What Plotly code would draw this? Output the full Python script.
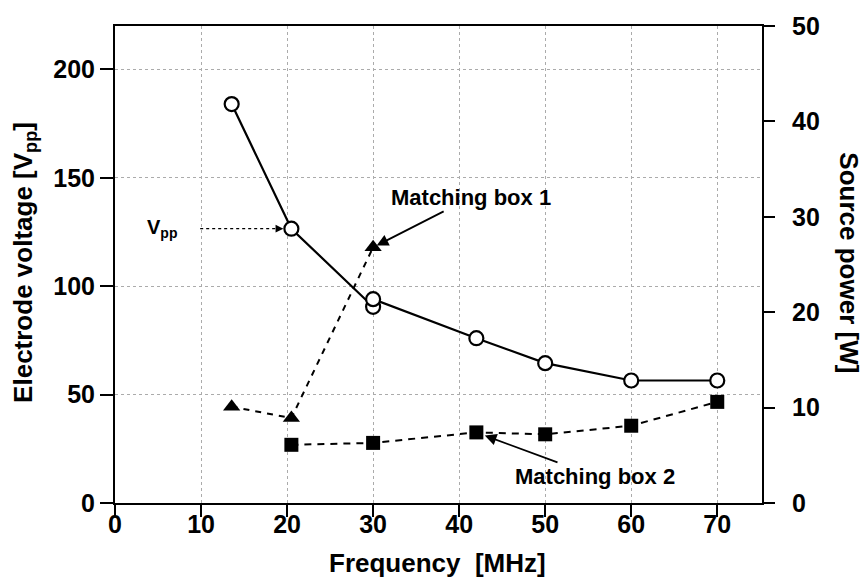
import plotly.graph_objects as go

# Electrode voltage (peak-to-peak) versus excitation frequency
freq_vpp = [13.56, 20.5, 30, 30, 42, 50, 60, 70]
vpp = [184, 126.5, 90.5, 94, 76, 64.5, 56.5, 56.5]

# Source power needed with matching box 1
freq_mb1 = [13.56, 20.5, 30]
power_mb1 = [10.1, 8.9, 26.8]

# Source power needed with matching box 2
freq_mb2 = [20.5, 30, 42, 50, 60, 70]
power_mb2 = [6.1, 6.3, 7.4, 7.2, 8.1, 10.6]

x_ticks = [0, 10, 20, 30, 40, 50, 60, 70]
v_ticks = [0, 50, 100, 150, 200]
p_ticks = [0, 10, 20, 30, 40, 50]

FONT = "Liberation Sans, Arial, sans-serif"
tick_font = dict(family=FONT, size=25, color="black", weight="bold")
title_font = dict(family=FONT, size=26, color="black")

fig = go.Figure()

fig.add_trace(go.Scatter(
    x=freq_vpp, y=vpp, mode="lines+markers", yaxis="y",
    line=dict(color="black", width=2.2),
    marker=dict(symbol="circle", size=14, color="white",
                line=dict(color="black", width=2.2)),
    showlegend=False,
))
fig.add_trace(go.Scatter(
    x=freq_mb1, y=power_mb1, mode="lines+markers", yaxis="y2",
    line=dict(color="black", width=2, dash="6px,6px"),
    marker=dict(symbol="triangle-up", size=15, color="black"),
    showlegend=False,
))
fig.add_trace(go.Scatter(
    x=freq_mb2, y=power_mb2, mode="lines+markers", yaxis="y2",
    line=dict(color="black", width=2, dash="7px,6px"),
    marker=dict(symbol="square", size=14, color="black"),
    showlegend=False,
))

annotations = [
    # axis titles
    dict(text="<b>Electrode voltage [V<sub>pp</sub>]</b>", xref="paper", yref="paper",
         x=-0.141, y=0.505, textangle=-90, showarrow=False, font=title_font,
         xanchor="center", yanchor="middle"),
    dict(text="<b>Source power [W]</b>", xref="paper", yref="paper",
         x=1.134, y=0.503, textangle=90, showarrow=False, font=title_font,
         xanchor="center", yanchor="middle"),
    dict(text="<b>Frequency  [MHz]</b>", xref="paper", yref="paper",
         x=0.498, y=-0.125, showarrow=False, font=title_font,
         xanchor="center", yanchor="middle"),
    # V_pp label with a dotted leader ending in an arrow at the 20 MHz point
    dict(text="<b>V<sub>pp</sub></b>", xref="x", yref="y",
         x=5.5, y=vpp[1], showarrow=False,
         font=dict(family=FONT, size=20, color="black"),
         xanchor="center", yanchor="middle"),
    dict(text=" ", xref="x", yref="y", x=freq_vpp[1], y=vpp[1],
         ax=-16, ay=0, showarrow=True, arrowhead=2, arrowsize=1.2,
         arrowwidth=1.3, arrowcolor="black", standoff=8,
         font=dict(size=2)),
    # series labels
    dict(text="<b>Matching box 1</b>", xref="x", yref="y2",
         x=freq_mb1[2], y=power_mb1[2], ax=98, ay=-50,
         showarrow=True, arrowhead=2, arrowsize=1.3, arrowwidth=1.8,
         arrowcolor="black", standoff=4,
         font=dict(family=FONT, size=22, color="black")),
    dict(text="<b>Matching box 2</b>", xref="x", yref="y2",
         x=freq_mb2[2], y=power_mb2[2], ax=119, ay=44,
         showarrow=True, arrowhead=2, arrowsize=1.3, arrowwidth=1.8,
         arrowcolor="black", standoff=9,
         font=dict(family=FONT, size=22, color="black")),
]

shapes = [
    dict(type="line", xref="x", yref="y", x0=9.9, x1=freq_vpp[1] - 1.5,
         y0=vpp[1], y1=vpp[1], line=dict(color="black", width=1.3, dash="dot")),
]

grid = dict(showgrid=True, gridcolor="#ababab", griddash="dot", gridwidth=1)

fig.update_layout(
    width=864, height=578,
    margin=dict(l=115, r=102, t=24, b=75),
    paper_bgcolor="white", plot_bgcolor="white",
    font=dict(family=FONT, color="black"),
    xaxis=dict(
        range=[0, 75.2], tickvals=x_ticks, ticks="outside", ticklen=12,
        tickwidth=2, tickcolor="black", showline=True, linewidth=2,
        linecolor="black", mirror=True, tickfont=tick_font,
        zeroline=False, ticklabelstandoff=-14, **grid,
    ),
    yaxis=dict(
        range=[0, 220], tickvals=v_ticks, ticks="outside", ticklen=13,
        tickwidth=2, tickcolor="black", showline=True, linewidth=2,
        linecolor="black", tickfont=tick_font, zeroline=False, **grid,
    ),
    yaxis2=dict(
        range=[0, 50], tickvals=p_ticks, overlaying="y", side="right",
        ticks="outside", ticklen=11, tickwidth=2, tickcolor="black",
        showline=True, linewidth=2, linecolor="black", tickfont=tick_font,
        showgrid=False, zeroline=False, ticklabelstandoff=12,
    ),
    annotations=annotations,
    shapes=shapes,
)

fig.write_html("out.html")
